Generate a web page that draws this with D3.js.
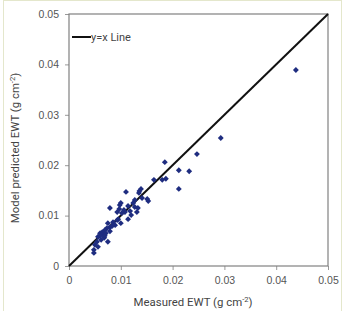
<!DOCTYPE html>
<html>
<head>
<meta charset="utf-8">
<script src="https://d3js.org/d3.v7.min.js"></script>
<style>
  body { margin: 0; background: #fff; }
  svg { display: block; font-family: Roboto, "Noto Sans", sans-serif; }
</style>
</head>
<body>
<div id="chart"></div>
<script>
// Measured vs predicted EWT (g cm-2)
const measured = [
  0.0438, 0.0293, 0.0247, 0.0185, 0.0212, 0.0232, 0.0180, 0.0187, 0.0212, 0.0153,
  0.0110, 0.0139, 0.0135, 0.0151, 0.0127, 0.0100, 0.0098, 0.0114, 0.0127, 0.0133,
  0.0131, 0.0079, 0.0093, 0.0108, 0.0102, 0.0114, 0.0095, 0.0100, 0.0085, 0.0075,
  0.0079, 0.0073, 0.0069, 0.0064, 0.0066, 0.0056, 0.0068, 0.0075, 0.0054, 0.0050,
  0.0056, 0.0048, 0.0048, 0.0060, 0.0083, 0.0089, 0.0071, 0.0062, 0.0093, 0.0120,
  0.0106, 0.0124, 0.0141, 0.0097, 0.0069, 0.0079, 0.0060, 0.0118, 0.0164, 0.0136
];
const predicted = [
  0.0389, 0.0254, 0.0222, 0.0206, 0.0190, 0.0188, 0.0171, 0.0173, 0.0153, 0.0129,
  0.0147, 0.0153, 0.0145, 0.0133, 0.0131, 0.0125, 0.0121, 0.0119, 0.0117, 0.0115,
  0.0107, 0.0115, 0.0107, 0.0107, 0.0105, 0.0093, 0.0093, 0.0085, 0.0087, 0.0085,
  0.0077, 0.0075, 0.0071, 0.0067, 0.0062, 0.0058, 0.0056, 0.0048, 0.0048, 0.0042,
  0.0038, 0.0032, 0.0026, 0.0065, 0.0079, 0.0081, 0.0065, 0.0052, 0.0091, 0.0101,
  0.0111, 0.0125, 0.0135, 0.0113, 0.0060, 0.0069, 0.0060, 0.0109, 0.0171, 0.0149
];
const xTicks = [0, 0.01, 0.02, 0.03, 0.04, 0.05];
const yTicks = [0, 0.01, 0.02, 0.03, 0.04, 0.05];
const legendLabel = "y=x Line";

const width = 346, height = 311;
const margin = { top: 14, right: 18, bottom: 45, left: 69 };

const svg = d3.select("#chart").append("svg")
    .attr("width", width)
    .attr("height", height);

// faint outer frame of the figure
svg.append("rect")
    .attr("x", 3.5).attr("y", 0.5)
    .attr("width", 338).attr("height", 312)
    .attr("fill", "none")
    .attr("stroke", "#e4e7cc");

const x = d3.scaleLinear().domain([0, 0.05]).range([margin.left, width - margin.right]);
const y = d3.scaleLinear().domain([0, 0.05]).range([height - margin.bottom, margin.top]);

const fmt = d => d === 0 ? "0" : d3.format(".2f")(d);

// axes
const xAxis = svg.append("g")
    .attr("transform", `translate(0,${y(0)})`)
    .call(d3.axisBottom(x).tickValues(xTicks).tickFormat(fmt).tickSize(4).tickSizeOuter(0));
const yAxis = svg.append("g")
    .attr("transform", `translate(${x(0)},0)`)
    .call(d3.axisLeft(y).tickValues(yTicks).tickFormat(fmt).tickSize(4).tickSizeOuter(0));

[xAxis, yAxis].forEach(g => {
  g.selectAll(".domain").remove();
  g.selectAll(".tick line").attr("stroke", "#999");
  g.selectAll(".tick text").attr("fill", "#555").style("font-size", "10.5px");
});
xAxis.selectAll(".tick text").attr("y", 9).attr("dy", "0.9em");
yAxis.selectAll(".tick text").attr("x", -10);

// plot frame
svg.append("rect")
    .attr("x", x(0)).attr("y", y(0.05))
    .attr("width", x(0.05) - x(0)).attr("height", y(0) - y(0.05))
    .attr("fill", "none")
    .attr("stroke", "#808080")
    .attr("stroke-width", 1.2);

// y = x line
svg.append("line")
    .attr("x1", x(0)).attr("y1", y(0))
    .attr("x2", x(0.05)).attr("y2", y(0.05))
    .attr("stroke", "#111")
    .attr("stroke-width", 2);

// points (diamond markers)
const diamond = d3.symbol().type(d3.symbolDiamond2).size(22);
svg.append("g").selectAll("path")
    .data(measured.map((m, i) => [m, predicted[i]]))
    .join("path")
    .attr("transform", d => `translate(${x(d[0])},${y(d[1])})`)
    .attr("d", diamond)
    .attr("fill", "#1f2d80");

// legend
svg.append("line")
    .attr("x1", 72).attr("x2", 91)
    .attr("y1", 37).attr("y2", 37)
    .attr("stroke", "#111").attr("stroke-width", 2);
svg.append("text")
    .attr("x", 91).attr("y", 41)
    .attr("fill", "#444")
    .style("font-size", "11px")
    .text(legendLabel);

// axis titles
const xTitle = svg.append("text")
    .attr("x", 193).attr("y", 306)
    .attr("text-anchor", "middle")
    .attr("fill", "#444")
    .style("font-size", "11.4px");
xTitle.append("tspan").text("Measured EWT (g cm");
xTitle.append("tspan").attr("dy", -4).style("font-size", "7.5px").text("-2");
xTitle.append("tspan").attr("dy", 4).text(")");

const yTitle = svg.append("text")
    .attr("transform", `translate(19,148) rotate(-90)`)
    .attr("text-anchor", "middle")
    .attr("fill", "#444")
    .style("font-size", "11.4px");
yTitle.append("tspan").text("Model predicted EWT (g cm");
yTitle.append("tspan").attr("dy", -4).style("font-size", "7.5px").text("-2");
yTitle.append("tspan").attr("dy", 4).text(")");
</script>
</body>
</html>
